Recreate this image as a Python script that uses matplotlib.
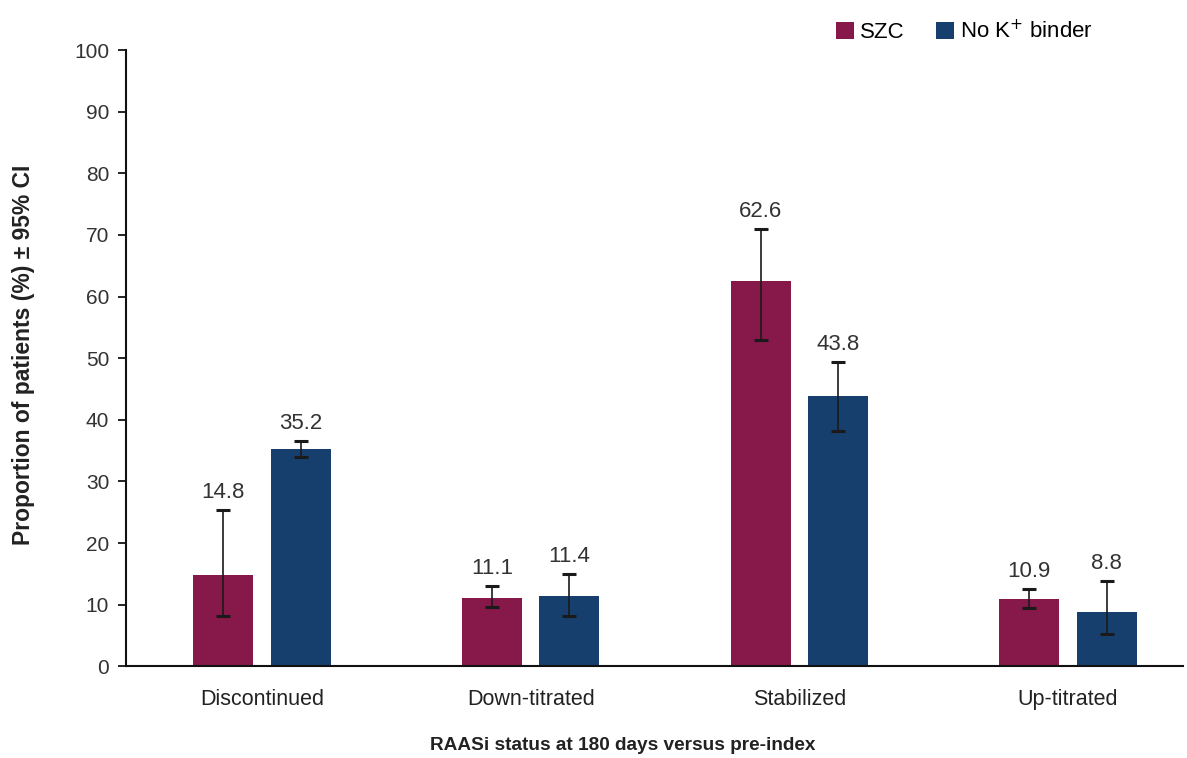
import numpy as np
import matplotlib.pyplot as plt

plt.rcParams['font.family'] = ['Liberation Sans', 'DejaVu Sans']

categories = ["Discontinued", "Down-titrated", "Stabilized", "Up-titrated"]
szc = [14.8, 11.1, 62.6, 10.9]
szc_lo = [8.1, 9.6, 53.0, 9.5]
szc_hi = [25.3, 13.0, 71.0, 12.5]
nok = [35.2, 11.4, 43.8, 8.8]
nok_lo = [34.0, 8.2, 38.2, 5.2]
nok_hi = [36.5, 15.0, 49.4, 13.8]

szc_color = '#86184a'
nok_color = '#173f6e'

fig = plt.figure(figsize=(11.87, 7.58), dpi=100)
ax = fig.add_axes([0.106, 0.121, 0.891, 0.813])

x = np.arange(len(categories))
w = 0.224
off = 0.144

def draw(xs, vals, lo, hi, color, label):
    ax.bar(xs, vals, w, color=color, label=label, zorder=2)
    vals = np.array(vals)
    err = [vals - np.array(lo), np.array(hi) - vals]
    ax.errorbar(xs, vals, yerr=err, fmt='none', ecolor='#1a1a1a',
                elinewidth=1.2, capsize=5, capthick=2.2, zorder=3)
    for xi, v, h in zip(xs, vals, hi):
        ax.annotate(f"{v:.1f}", (xi, h), xytext=(0, 5), textcoords='offset points',
                    ha='center', va='bottom', fontsize=16, color='#333333')

draw(x - off, szc, szc_lo, szc_hi, szc_color, 'SZC')
draw(x + off, nok, nok_lo, nok_hi, nok_color, 'No K$^{+}$ binder')

ax.set_xlim(-0.507, 3.43)
ax.set_ylim(0, 100)
ax.set_yticks(range(0, 101, 10))
ax.set_xticks(x)
ax.set_xticklabels(categories, fontsize=15.5, color='#222222')
ax.tick_params(axis='x', length=0, pad=16)
ax.tick_params(axis='y', length=6, width=1.2, labelsize=15, labelcolor='#333333', pad=6)
for s in ['top', 'right']:
    ax.spines[s].set_visible(False)
for s in ['left', 'bottom']:
    ax.spines[s].set_linewidth(1.5)
    ax.spines[s].set_color('#111111')

ax.set_ylabel("Proportion of patients (%) \u00b1 95% CI", fontsize=16.5,
              fontweight='bold', color='#222222')
ax.yaxis.set_label_coords(-0.086, 0.505)
fig.text(623 / 1187, 1 - 746 / 758, "RAASi status at 180 days versus pre-index",
         ha='center', va='center', fontsize=13.7, fontweight='bold', color='#222222')

fig.legend(loc='upper right', bbox_to_anchor=(0.938, 1.0), ncol=2, frameon=False,
           fontsize=16, handlelength=0.8, handleheight=0.8, handletextpad=0.3,
           columnspacing=1.4)

fig.savefig('out.png', dpi=100)
